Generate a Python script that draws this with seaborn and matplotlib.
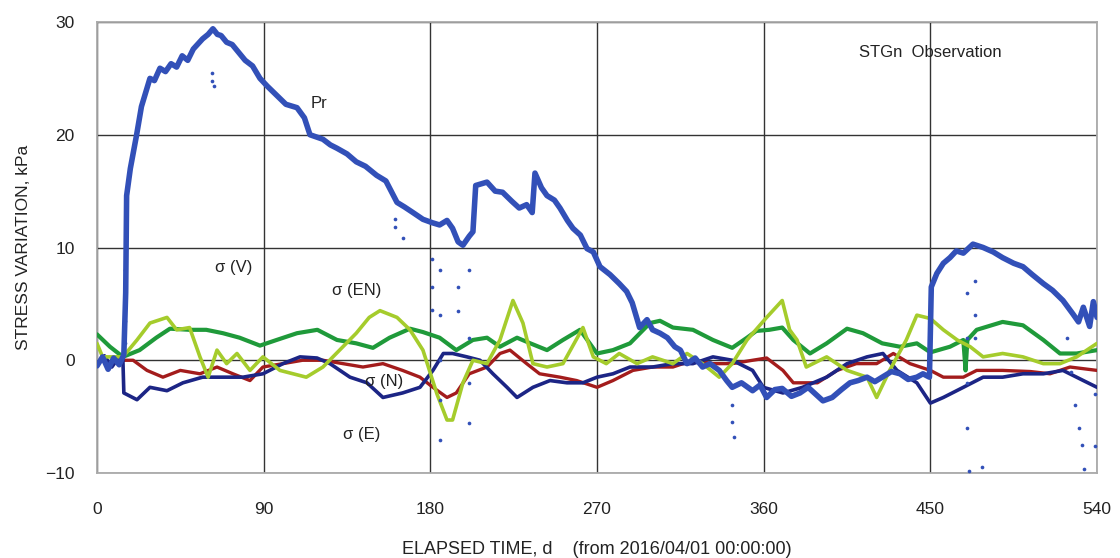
import numpy as np
import pandas as pd
import seaborn as sns
import matplotlib
matplotlib.use("Agg")
import matplotlib.pyplot as plt
from matplotlib import font_manager

# ---------------- data ----------------
pr_day = [0, 3, 6, 9, 12, 14.5, 15.5, 16, 18, 21.4, 24, 28.6, 31, 34, 37, 40, 43, 46, 49, 52, 57,
          60, 62.6, 65, 67, 70, 73, 80, 84, 88, 92, 97, 102, 108, 112, 115, 122, 126, 129.6, 135,
          140, 145, 151, 156, 162, 166, 170.6, 176, 181, 185, 189, 192, 195,
          197.6, 201, 203, 204.5, 210.6, 215, 219, 224, 228, 232, 235, 236.5, 240, 243, 247, 250,
          254, 257, 261, 264.6, 268, 271.6, 277, 282, 286,
          289, 293, 297, 300, 304, 308, 312, 315, 318.6, 323, 327, 331, 336, 340, 343, 348, 354,
          358, 361.6, 366, 370, 375, 379.6, 384, 388, 392, 397, 402,
          406.6, 411, 415.8, 420, 424, 429, 433.6, 438, 442.7, 446, 449.5, 450.5, 453.5, 457,
          460.6, 464, 467.8, 473, 478.5, 484, 489, 495, 500, 505,
          511, 516, 521.6, 527, 530, 532.6, 536, 538, 540]
pr_val = [-0.5, 0.3, -0.8, 0.2, -0.4, 0.5, 6, 14.6, 17, 20, 22.5, 25, 24.8, 25.9, 25.6, 26.3,
          26.0, 27, 26.6, 27.6, 28.5, 28.9, 29.4, 28.9, 28.8, 28.2, 28, 26.6, 26.1, 25, 24.3,
          23.5, 22.7, 22.4, 21.5, 20, 19.6, 19.1, 18.8, 18.3, 17.6, 17.2, 16.4, 15.9, 14, 13.6,
          13.1, 12.5, 12.2, 12, 12.4, 11.7, 10.5, 10.2, 11, 11.4, 15.5, 15.8, 15.0, 14.9, 14.1,
          13.5, 13.8, 13.1, 16.6, 15.3, 14.6, 14.2, 13.5, 12.4, 11.7, 11.1, 9.9, 9.6, 8.3, 7.6,
          6.8, 6.1, 5.1, 2.9, 3.6, 2.7, 2.4, 2.0, 1.2, 0.9, -0.3, 0.2, -0.6, -0.3, -0.9, -1.8,
          -2.4, -2.0, -2.7, -2.2, -3.3, -2.6, -2.5, -3.2, -2.9, -2.4, -3.0, -3.6, -3.3, -2.6,
          -2.0, -1.8, -1.5, -1.9, -1.5, -1.0, -1.2, -1.7, -1.5, -1.2, -1.5, 6.5, 7.7, 8.6, 9.1,
          9.7, 9.5, 10.3, 10.0, 9.6, 9.1, 8.6, 8.3, 7.6, 6.8, 6.2, 5.3, 4.1, 3.4, 4.7, 3.0, 5.2,
          3.8]

# isolated dropout samples of Pr
pr_drop_day = [15, 15, 15, 15.3, 15.5, 62, 62, 63, 161, 161, 165, 181, 181, 181, 185, 185, 185,
               185, 185, 195, 195, 201, 201, 201, 201, 343, 343, 344, 470, 470, 470, 470, 471,
               474, 474, 474, 478, 524, 526, 528, 530, 532, 533, 539, 539]
pr_drop_val = [1.5, 3.5, 5.5, 8, 11, 25.5, 24.8, 24.3, 12.5, 11.8, 10.8, 9, 6.5, 4.5, 8, 4, 0,
               -3.5, -7.1, 6.5, 4.4, 8, 2, -2, -5.6, -4, -5.5, -6.8, 6, 2, -2, -6, -9.8, 7, 4,
               2, -9.5, 2, -1, -4, -6, -7.5, -9.6, -3, -7.6]

v_day = [0, 7, 14, 23, 32, 39.4, 50, 59, 68, 77, 88, 97, 108, 119, 129.6, 140, 149, 158, 169,
         176, 185, 194, 203, 210.6, 217.6, 226.8, 234, 243, 251.6, 260.8, 270, 278.6, 287.8,
         298.6, 304, 311, 321.8, 332.6, 343, 351, 356, 363, 370, 376, 385, 394, 405, 413.6, 424,
         433.6, 442.7, 450, 460.6, 467.8, 469, 470, 475, 489, 500, 511, 520, 529, 540]
v_val = [2.3, 1.2, 0.3, 0.9, 2.0, 2.8, 2.7, 2.7, 2.4, 2.0, 1.3, 1.8, 2.4, 2.7, 1.8, 1.5, 1.1,
         2.0, 2.8, 2.5, 2.0, 0.9, 1.8, 2.0, 1.2, 2.0, 1.5, 0.9, 1.8, 2.7, 0.6, 0.9, 1.5, 3.3, 3.5,
         2.9, 2.7, 1.8, 1.1, 2.0, 2.6, 2.7, 2.9, 1.8, 0.6, 1.5, 2.8, 2.4, 1.5, 1.2, 1.5, 0.7, 1.2,
         1.8, -0.9, 1.8, 2.7, 3.4, 3.1, 1.8, 0.6, 0.6, 0.9]

en_day = [0, 3, 14, 21.6, 28.6, 37.8, 43, 50, 55.6, 60, 64.8, 70, 75.6, 82.6, 89.6, 98.8, 113,
          122, 132.8, 140, 147, 152.8, 162, 169, 176, 183.6, 189, 192, 197.6, 203, 210.6, 217.6,
          224.6, 230, 235.4, 243, 251.6, 262.4, 268, 275, 282, 291.6, 300, 311, 318.6, 327, 336,
          343, 351, 361.6, 370, 374, 378, 383, 394, 405, 415.8, 421, 428, 437, 442.7, 450, 457,
          464.5, 471.5, 478.5, 489, 500, 511, 520, 529, 540]
en_val = [1.5, 0.3, 0.3, 1.8, 3.3, 3.8, 2.7, 2.9, 0.3, -1.5, 0.9, -0.3, 0.6, -0.9, 0.3, -0.9,
          -1.5, -0.6, 1.2, 2.4, 3.8, 4.4, 3.8, 2.7, 0.9, -3.0, -5.3, -5.3, -2.0, 0.0, -0.3, 1.8,
          5.3, 3.3, -0.3, -0.6, -0.3, 2.9, 0.3, -0.3, 0.6, -0.3, 0.3, -0.3, 0.6, -0.3, -1.5, -0.3,
          1.8, 3.8, 5.3, 2.7, 1.8, -0.6, 0.3, -0.9, -1.5, -3.3, -0.9, 1.8, 4.0, 3.7, 2.7, 1.8, 1.2,
          0.3, 0.6, 0.3, -0.3, -0.3, 0.3, 1.5]

n_day = [14, 19.5, 27, 35.6, 45, 55.6, 64.8, 73.4, 82.6, 89.6, 100.4, 111, 122, 132.8, 143.6,
         154.4, 165, 174.4, 181.4, 189, 194, 201, 210.6, 217.6, 223, 232, 239, 250, 259, 270,
         278.6, 289.4, 300, 311, 321.8, 332.6, 343, 354, 361.6, 370.4, 376, 389, 399.6, 410,
         421, 430, 439, 450, 457, 467.8, 475, 489, 504, 514.6, 525.4, 540]
n_val = [0.0, 0.0, -0.9, -1.5, -0.9, -1.2, -0.6, -1.2, -1.8, -0.6, -0.3, 0.0, 0.0, -0.3, -0.6,
         -0.3, -0.9, -1.5, -2.4, -3.3, -2.9, -1.2, -0.6, 0.6, 0.9, -0.3, -1.2, -1.5, -1.8, -2.4,
         -1.8, -0.9, -0.6, -0.6, 0.0, -0.3, -0.3, 0.0, 0.2, -0.9, -2.0, -2.0, -0.9, -0.3, -0.3,
         0.6, -0.3, -0.9, -1.5, -1.5, -0.9, -0.9, -1.0, -1.2, -0.6, -0.9]

e_day = [0, 4, 8, 12, 14, 14.5, 21.6, 28.6, 37.8, 46.4, 57, 68, 78.8, 89.6, 100.4, 109.6, 118.8,
         125.8, 136.6, 145.8, 154.4, 165, 174.4, 181.4, 187, 192, 199.8, 206.8, 213.8, 221.4,
         226.8, 235.4, 244.6, 253.8, 262.4, 270, 278.6, 287.8, 300, 311, 321.8, 332.6, 343, 354,
         359.8, 370.4, 381, 394, 405, 415.8, 424.4, 432, 442.7, 450, 457, 467.8, 478.5, 489, 500,
         511, 521.6, 532.6, 540]
e_val = [-0.3, 0.4, -0.6, 0.3, 0.0, -2.9, -3.5, -2.4, -2.7, -2.0, -1.5, -1.5, -1.5, -1.2, -0.3,
         0.3, 0.2, -0.3, -1.5, -2.0, -3.3, -2.9, -2.4, -0.9, 0.6, 0.6, 0.3, 0.0, -1.2, -2.4, -3.3,
         -2.4, -1.8, -2.0, -2.0, -1.5, -1.2, -0.6, -0.6, -0.3, -0.3, 0.3, 0.0, -0.9, -2.4, -2.9,
         -2.4, -1.5, -0.3, 0.3, 0.6, -0.9, -2.0, -3.8, -3.3, -2.4, -1.5, -1.5, -1.2, -1.2, -0.9,
         -1.8, -2.4]

x_ticks = [0, 90, 180, 270, 360, 450, 540]
y_ticks = [-10, 0, 10, 20, 30]

# ---------------- styling ----------------
sns.set_theme(style="white")
avail = {f.name for f in font_manager.fontManager.ttflist}
base_font = "Liberation Sans" if "Liberation Sans" in avail else "DejaVu Sans"
narrow_font = "Liberation Sans Narrow" if "Liberation Sans Narrow" in avail else base_font
plt.rcParams["font.family"] = [base_font, "DejaVu Sans"]

c_pr = "#3250b8"
c_e = "#1c2585"
c_n = "#a31c1c"
c_v = "#1f9a3a"
c_en = "#a5cc2c"

fig = plt.figure(figsize=(11.2, 5.58), dpi=100)
ax = fig.add_axes([0.0866, 0.1523, 0.8929, 0.8083])

sns.lineplot(x=v_day, y=v_val, ax=ax, color=c_v, lw=3.0, zorder=3)
sns.lineplot(x=n_day, y=n_val, ax=ax, color=c_n, lw=2.4, zorder=3)
sns.lineplot(x=e_day, y=e_val, ax=ax, color=c_e, lw=2.6, zorder=3)
sns.lineplot(x=en_day, y=en_val, ax=ax, color=c_en, lw=2.6, zorder=4)
sns.lineplot(x=pr_day, y=pr_val, ax=ax, color=c_pr, lw=4.0, zorder=5)
sns.scatterplot(x=pr_drop_day, y=pr_drop_val, ax=ax, color=c_pr, s=7, linewidth=0, zorder=5)

ax.set_xlim(0, 540)
ax.set_ylim(-10, 30)
ax.set_xticks(x_ticks)
ax.set_yticks(y_ticks)
ax.set_xticklabels([str(t) for t in x_ticks], fontsize=12.5, family=narrow_font, color="#222222")
ax.set_yticklabels(["\u221210", "0", "10", "20", "30"], fontsize=12.5, color="#222222")
ax.tick_params(axis="x", length=0, pad=21)
ax.tick_params(axis="y", length=0, pad=16)
ax.grid(True, color="#333333", lw=1.0)
ax.set_axisbelow(True)
for s in ax.spines.values():
    s.set_color("#aaaaaa")
    s.set_linewidth(1.3)

ax.set_xlabel("ELAPSED TIME, d    (from 2016/04/01 00:00:00)", fontsize=13,
              family=narrow_font, color="#222222", labelpad=17)
ax.set_ylabel("STRESS VARIATION, kPa", fontsize=12.5, color="#222222", labelpad=10)

ax.text(120, 22.8, "Pr", fontsize=12, color="#222222", ha="center", va="center", zorder=6)
ax.text(74, 8.2, "\u03c3 (V)", fontsize=12, color="#222222", ha="center", va="center", zorder=6)
ax.text(140, 6.2, "\u03c3 (EN)", fontsize=12, color="#222222", ha="center", va="center", zorder=6)
ax.text(155, -1.9, "\u03c3 (N)", fontsize=12, color="#222222", ha="center", va="center", zorder=6)
ax.text(143, -6.6, "\u03c3 (E)", fontsize=12, color="#222222", ha="center", va="center", zorder=6)
ax.text(450, 27.3, "STGn  Observation", fontsize=12, color="#222222", ha="center", va="center",
        zorder=6)

fig.savefig("out.png", dpi=100, facecolor="white")
